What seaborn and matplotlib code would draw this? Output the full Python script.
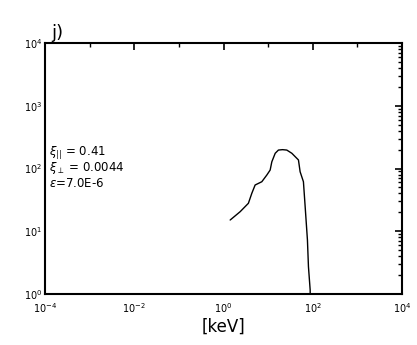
import matplotlib
matplotlib.use("Agg")
import matplotlib.pyplot as plt
import matplotlib.ticker as mticker
import seaborn as sns
import pandas as pd
import numpy as np

energy_kev = [1.41, 2.36, 3.61, 4.31, 5.11, 7.22, 9.35, 11.1, 12.1, 14.4, 17.0, 21.0, 26.2, 34.0, 47.8, 52.1, 61.8, 67.6, 76.0, 80.1, 87.5, 88.5]
flux = [15.1, 20.5, 27.9, 40.3, 54.6, 61.6, 78.8, 94.6, 128.0, 175.0, 197.0, 200.0, 197.0, 175.0, 137.0, 88.9, 61.6, 24.6, 7.26, 2.72, 1.16, 0.5]

x_major = [1e-4, 1e-2, 1e0, 1e2, 1e4]
x_major_labels = [r"$10^{-4}$", r"$10^{-2}$", r"$10^{0}$", r"$10^{2}$", r"$10^{4}$"]
x_minor = [1e-3, 1e-1, 1e1, 1e3]
y_major = [1e0, 1e1, 1e2, 1e3, 1e4]
y_major_labels = [r"$10^{0}$", r"$10^{1}$", r"$10^{2}$", r"$10^{3}$", r"$10^{4}$"]

annot_lines = [r"$\xi_{||}$ = 0.41", r"$\xi_{\perp}$ = 0.0044", r"$\epsilon$=7.0E-6"]

sns.set_theme(style="white")
plt.rcParams['font.family'] = ['DejaVu Sans']

fig = plt.figure(figsize=(4.17, 3.45), dpi=100)
ax = fig.add_axes([0.108, 0.148, 0.856, 0.727])

df = pd.DataFrame({"E": energy_kev, "F": flux})
sns.lineplot(data=df, x="E", y="F", ax=ax, color="black", linewidth=1.0, sort=False)

ax.set_xscale("log")
ax.set_yscale("log")
ax.set_xlim(1e-4, 1e4)
ax.set_ylim(1e0, 1e4)

ax.xaxis.set_major_locator(mticker.FixedLocator(x_major))
ax.xaxis.set_major_formatter(mticker.FixedFormatter(x_major_labels))
ax.xaxis.set_minor_locator(mticker.FixedLocator(x_minor))
ax.xaxis.set_minor_formatter(mticker.NullFormatter())
ax.yaxis.set_major_locator(mticker.FixedLocator(y_major))
ax.yaxis.set_major_formatter(mticker.FixedFormatter(y_major_labels))
ax.yaxis.set_minor_locator(mticker.LogLocator(base=10, subs=np.arange(2, 10), numticks=20))
ax.yaxis.set_minor_formatter(mticker.NullFormatter())

ax.tick_params(which="both", direction="in", top=True, right=True, colors="black", labelsize=7)
ax.tick_params(axis="x", which="major", pad=5)
ax.tick_params(axis="y", which="major", pad=2)
ax.tick_params(which="major", length=5, width=1.2)
ax.tick_params(which="minor", length=3, width=1.0)

for s in ax.spines.values():
    s.set_color("black")
    s.set_linewidth(1.5)

ax.set_xlabel("[keV]", fontsize=12, labelpad=2, color="black")
ax.set_ylabel("")

for i, t in enumerate(annot_lines):
    ax.text(0.012, 0.565 - i * 0.063, t, transform=ax.transAxes, fontsize=8.5, color="black", va="center", ha="left")

fig.text(0.122, 0.878, "j)", fontsize=13, color="black", ha="left", va="bottom")

fig.savefig("out.png", dpi=100, facecolor="white")
